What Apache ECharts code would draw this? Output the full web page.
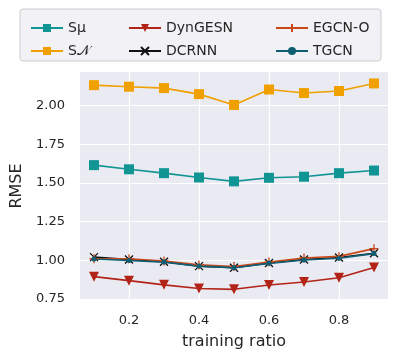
<!DOCTYPE html>
<html><head><meta charset="utf-8">
<script src="https://cdn.jsdelivr.net/npm/echarts@6/dist/echarts.min.js"></script>
<style>html,body{margin:0;padding:0;background:#fff}#c{width:399px;height:362px}</style>
</head><body><div id="c"></div>
<script>
const ratios = [0.1,0.2,0.3,0.4,0.5,0.6,0.7,0.8,0.9];
const sMu = [1.615,1.588,1.563,1.535,1.51,1.533,1.54,1.563,1.58];
const sN = [2.132,2.122,2.113,2.074,2.004,2.104,2.081,2.094,2.143];
const dynGESN = [0.894,0.868,0.841,0.817,0.812,0.84,0.859,0.887,0.953];
const dcrnn = [1.02,1.005,0.99,0.962,0.952,0.982,1.005,1.018,1.045];
const egcn = [1.01,1.01,0.995,0.97,0.96,0.988,1.015,1.025,1.075];
const tgcn = [1.008,0.998,0.988,0.962,0.952,0.98,1.002,1.013,1.043];
const xTicks = [0.2,0.4,0.6,0.8];
const yTicks = [0.75,1.0,1.25,1.5,1.75,2.0];
const names = ['S\u03bc','S\uD835\uDCA9','DynGESN','DCRNN','EGCN-O','TGCN'];

const pair = a => ratios.map((x,i)=>[x,a[i]]);
const txt = '#262626';
const font = 'DejaVu Sans';
const cross = 'path://M0,0L10,10M10,0L0,10';
const plus = 'path://M5,0L5,10M0,5L10,5';

function ser(name, data, color, symbol, size, extra){
  return Object.assign({
    name, type:'line', data:pair(data), symbol, symbolSize:size,
    lineStyle:{color, width:1.6}, itemStyle:{color, borderColor:color, borderWidth:0},
    animation:false, z:2
  }, extra||{});
}
const strokeStyle = c => ({color:c, borderColor:c, borderWidth:1.3});

const chart = echarts.init(document.getElementById('c'), null, {renderer:'canvas'});
const legendCommon = {orient:'vertical', itemWidth:32, itemHeight:10, itemGap:9,
  textStyle:{color:txt, fontFamily:font, fontSize:14}, top:16};
chart.setOption({
  backgroundColor:'#fff',
  textStyle:{fontFamily:font},
  graphic:[{type:'rect', shape:{x:20,y:9,width:361,height:52,r:3},
    style:{fill:'#f2f2f6', stroke:'#cccccc', lineWidth:1}, z:0}],
  legend:[
    Object.assign({}, legendCommon, {left:25, data:[names[0],names[1]]}),
    Object.assign({}, legendCommon, {left:123, data:[names[2],names[3]]}),
    Object.assign({}, legendCommon, {left:270, data:[names[4],names[5]]})
  ],
  grid:{left:80, right:11, top:72, bottom:62, show:true, backgroundColor:'#EAEAF2', borderWidth:0},
  xAxis:{type:'value', min:0.06, max:0.94,
    name:'training ratio', nameLocation:'middle', nameGap:34,
    nameTextStyle:{color:txt, fontSize:16, fontFamily:font},
    axisLine:{show:false}, axisTick:{show:false, customValues:xTicks},
    axisLabel:{customValues:xTicks, color:txt, fontSize:13, margin:14, fontFamily:font,
      formatter:v=>String(+v.toFixed(1))},
    splitLine:{show:true, lineStyle:{color:'#fff', width:1.2}}},
  yAxis:{type:'value', min:0.743, max:2.217,
    name:'RMSE', nameLocation:'middle', nameGap:55, nameRotate:90,
    nameTextStyle:{color:txt, fontSize:16, fontFamily:font},
    axisLine:{show:false}, axisTick:{show:false, customValues:yTicks},
    axisLabel:{customValues:yTicks, color:txt, fontSize:13, margin:15, fontFamily:font,
      formatter:v=>v.toFixed(2)},
    splitLine:{show:true, lineStyle:{color:'#fff', width:1.2}}},
  series:[
    ser(names[0], sMu, '#119594', 'rect', 10),
    ser(names[1], sN, '#F0A000', 'rect', 10),
    ser(names[2], dynGESN, '#B22418', 'triangle', 10, {symbolRotate:180}),
    ser(names[3], dcrnn, '#111111', cross, 8, {itemStyle:strokeStyle('#111111')}),
    ser(names[4], egcn, '#C8481A', plus, 9, {itemStyle:strokeStyle('#C8481A')}),
    ser(names[5], tgcn, '#0E5F74', 'circle', 5)
  ]
});
</script></body></html>
